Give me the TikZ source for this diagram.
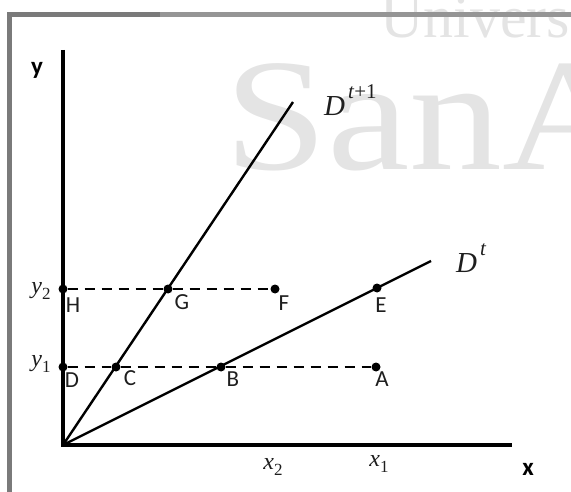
\documentclass[tikz,border=0pt]{standalone}
\usepackage{fontspec}
\setmainfont{Carlito}
\setsansfont{Carlito}
\newfontfamily\wmfont{Liberation Serif}
\newfontfamily\symfont{Liberation Serif}
\newcommand\symsub[2]{{\symfont\itshape #1}\raisebox{-0.28em}{\symfont\fontsize{17}{20}\selectfont #2}}
\newcommand\symsup[2]{{\symfont\itshape #1\/}\hspace{3pt}\raisebox{0.58em}{\symfont\fontsize{21}{24}\selectfont #2}}
\definecolor{framec}{HTML}{7A7A7A}
\definecolor{wmc}{HTML}{E4E4E4}
\definecolor{labc}{HTML}{1E1E1E}
\begin{document}
\begin{tikzpicture}[x=1pt,y=-1pt,
  dotpt/.style={circle,fill=black,inner sep=0pt,minimum size=9pt},
  lbl/.style={font=\fontsize{23}{27}\selectfont,text=labc,inner sep=0pt},
  mlbl/.style={font=\fontsize{24}{28}\selectfont,text=labc,inner sep=0pt},
  bigm/.style={font=\fontsize{29}{33}\selectfont,text=labc,inner sep=0pt,anchor=west},
  axlbl/.style={font=\fontsize{25}{29}\selectfont\sffamily\bfseries,inner sep=0pt},
  axisline/.style={line width=4pt},
  demand/.style={line width=2.4pt},
  guide/.style={line width=2.4pt,dash pattern=on 10pt off 7pt}]
\useasboundingbox (0,0) rectangle (571,492);
% watermark
\node[anchor=base west,inner sep=0pt,text=wmc,font=\fontsize{60}{62}\wmfont] (wmU) at (380,38) {Univers};
\node[anchor=base west,inner sep=0pt,text=wmc,font=\fontsize{160}{162}\wmfont,xscale=1.16] (wmS) at (224,170) {SanA};
% frame
\draw[framec,line width=4.5pt] (9.5,492) -- (9.5,14.5) -- (160,14.5);
\draw[framec!80!white,line width=4.5pt] (160,14.5) -- (571,14.5);
% key coordinates
\coordinate (O) at (63,445);
\coordinate (Ytop) at (63,50);
\coordinate (Xend) at (512,445);
\coordinate (Dt) at (431,261);
\coordinate (Dt1) at (293,102);
% axes
\draw[axisline] (Ytop) -- (O) -- (Xend);
% demand lines
\draw[demand] (O) -- (Dt);
\draw[demand] (O) -- (Dt1);
% points
\node[dotpt] (H) at (63,289) {};
\node[dotpt] (G) at (168,289) {};
\node[dotpt] (F) at (275,289) {};
\node[dotpt] (E) at (377,288) {};
\node[dotpt] (D) at (63,367) {};
\node[dotpt] (C) at (116,367) {};
\node[dotpt] (B) at (221,367) {};
\node[dotpt] (A) at (376,367) {};
% dashed guides
\draw[guide] (H) -- (G) -- (F);
\draw[guide] (D) -- (C) -- (B) -- (A);
% point labels
\node[lbl] (lH) at (73,305) {H};
\node[lbl] (lG) at (182,302) {G};
\node[lbl] (lF) at (284,303) {F};
\node[lbl] (lE) at (381,305) {E};
\node[lbl] (lD) at (72,380) {D};
\node[lbl] (lC) at (130,378) {C};
\node[lbl] (lB) at (233,379) {B};
\node[lbl] (lA) at (382,379) {A};
% axis value labels
\node[mlbl] (ly2) at (41,291) {\symsub{y}{2}};
\node[mlbl] (ly1) at (41,364) {\symsub{y}{1}};
\node[mlbl] (lx2) at (273,467) {\symsub{x}{2}};
\node[mlbl] (lx1) at (379,464) {\symsub{x}{1}};
% curve labels
\node[bigm] (lDt1) at (324,100) {\symsup{D}{\itshape t\/\upshape +1}};
\node[bigm] (lDt) at (456,258) {\symsup{D}{\itshape t}};
% axis names
\node[axlbl] (ly) at (37,70) {y};
\node[axlbl] (lx) at (528,469) {x};
\end{tikzpicture}
\end{document}
